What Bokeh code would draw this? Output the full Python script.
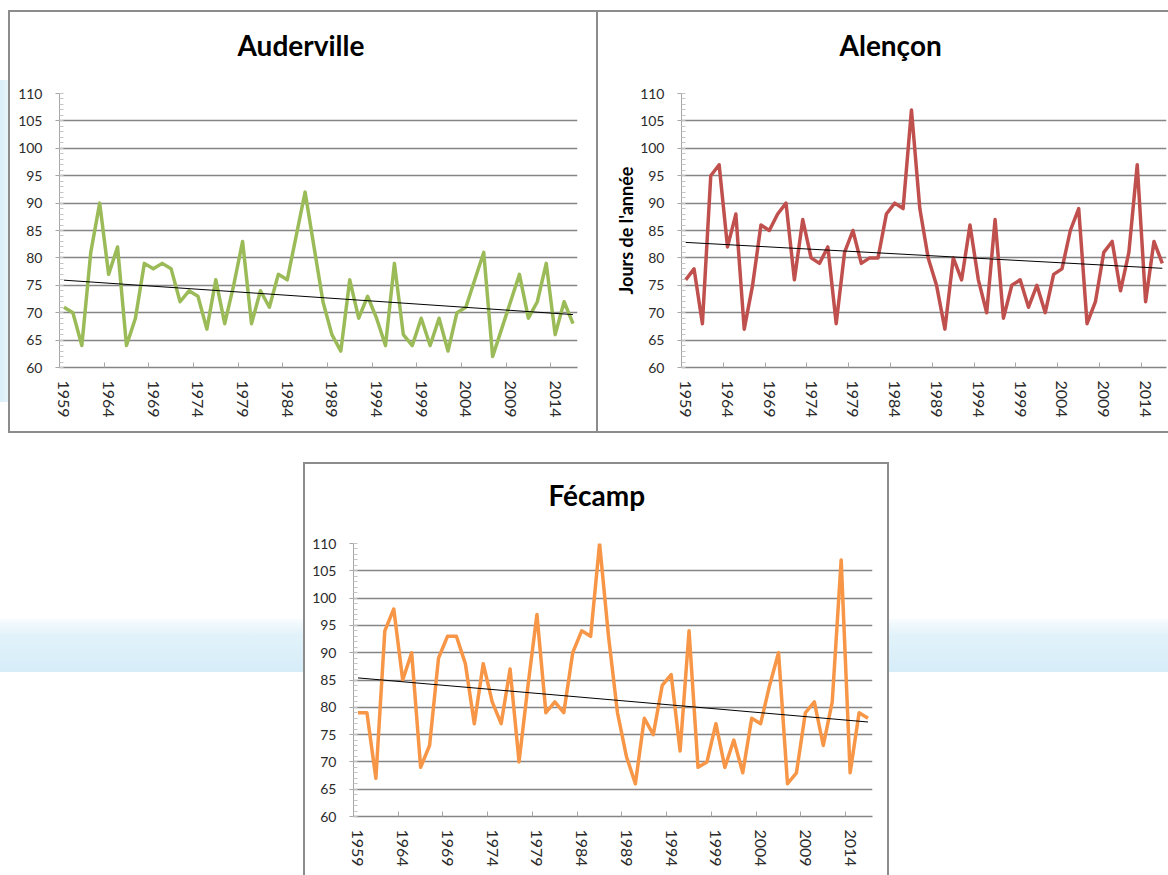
import numpy as np
from bokeh.plotting import figure
from bokeh.models import FixedTicker, Spacer, Range1d, Title
from bokeh.layouts import column, row
from bokeh.embed import file_html
from bokeh.resources import INLINE

# ---------------- data ----------------
years = list(range(1959, 2017))
label_years = list(range(1959, 2015, 5))

auderville = [71, 70, 64, 81, 90, 77, 82, 64, 69, 79,
              78, 79, 78, 72, 74, 73, 67, 76, 68, 75,
              83, 68, 74, 71, 77, 76, 84, 92, 82, 72,
              66, 63, 76, 69, 73, 69, 64, 79, 66, 64,
              69, 64, 69, 63, 70, 71, 76, 81, 62, 67,
              72, 77, 69, 72, 79, 66, 72, 68]

alencon = [76, 78, 68, 95, 97, 82, 88, 67, 75, 86,
           85, 88, 90, 76, 87, 80, 79, 82, 68, 81,
           85, 79, 80, 80, 88, 90, 89, 107, 89, 80,
           75, 67, 80, 76, 86, 76, 70, 87, 69, 75,
           76, 71, 75, 70, 77, 78, 85, 89, 68, 72,
           81, 83, 74, 81, 97, 72, 83, 79]

fecamp = [79, 79, 67, 94, 98, 85, 90, 69, 73, 89,
          93, 93, 88, 77, 88, 81, 77, 87, 70, 84,
          97, 79, 81, 79, 90, 94, 93, 110, 93, 79,
          71, 66, 78, 75, 84, 86, 72, 94, 69, 70,
          77, 69, 74, 68, 78, 77, 84, 90, 66, 68,
          79, 81, 73, 81, 107, 68, 79, 78]

y_ticks = list(range(60, 111, 5))
y_minor = list(range(60, 111))

GRID = "#858585"
AXIS = "#a6a6a6"
TEXT = "#2b2b2b"
BORDER = "2px solid #8c8c8c"


def make_chart(values, color, title, width, height, mbl, mbr, mbt, mbb,
               x_end, title_offset, borders, ylabel=None):
    p = figure(width=width, height=height,
               x_range=Range1d(1958.5, x_end), y_range=Range1d(60, 110),
               output_backend="svg", toolbar_location=None,
               min_border_left=mbl, min_border_right=mbr,
               min_border_top=mbt, min_border_bottom=mbb,
               outline_line_color=None, background_fill_color="white",
               border_fill_color="white")
    # spacer between the frame and the title
    p.add_layout(Title(text=" ", text_font_size="1px", standoff=27), "above")
    p.title.text = title
    p.title.align = "left"
    p.title.offset = title_offset
    p.title.standoff = 4
    p.title.text_font = "Lato"
    p.title.text_font_style = "bold"
    p.title.text_font_size = "28px"
    p.title.text_color = "black"

    p.xgrid.visible = False
    p.ygrid.grid_line_color = GRID
    p.ygrid.grid_line_width = 1.3

    ya = p.yaxis[0]
    ya.ticker = FixedTicker(ticks=y_ticks, minor_ticks=y_minor)
    ya.major_tick_in = 0
    ya.major_tick_out = 4
    ya.minor_tick_in = 4
    ya.minor_tick_out = 0
    ya.axis_line_color = AXIS
    ya.major_tick_line_color = AXIS
    ya.minor_tick_line_color = "#c4c4c4"
    ya.major_label_text_font = "Lato"
    ya.major_label_text_font_size = "14px"
    ya.major_label_text_color = TEXT
    ya.major_label_standoff = 13
    if ylabel:
        ya.axis_label = ylabel
        ya.axis_label_text_font = "Lato"
        ya.axis_label_text_font_style = "bold"
        ya.axis_label_text_font_size = "18px"
        ya.axis_label_text_color = "black"
        ya.axis_label_standoff = 0

    xa = p.xaxis[0]
    boundaries = [y + 4.5 for y in label_years]
    xa.ticker = FixedTicker(ticks=label_years, minor_ticks=boundaries)
    xa.major_tick_line_color = None
    xa.major_tick_in = 0
    xa.major_tick_out = 0
    xa.minor_tick_in = 5
    xa.minor_tick_out = 0
    xa.minor_tick_line_color = AXIS
    xa.axis_line_color = GRID
    xa.axis_line_width = 1.3
    xa.major_label_orientation = "vertical"
    xa.major_label_standoff = 13
    xa.major_label_text_font = "Lato"
    xa.major_label_text_font_size = "16px"
    xa.major_label_text_color = TEXT

    p.line(years, values, line_color=color, line_width=3.5, line_join="round")
    coef = np.polyfit(years, values, 1)
    ends = [years[0], years[-1]]
    p.line(ends, list(np.polyval(coef, ends)), line_color="black", line_width=1)

    p.styles = {k: BORDER for k in borders}
    return p


p1 = make_chart(auderville, "#9BBB59", "Auderville", 588, 423,
                49, 21, 81, 68, 2016.5, 178,
                ["border-left", "border-top", "border-bottom"])
p2 = make_chart(alencon, "#C0504D", "Alençon", 572, 423,
                83, 4, 81, 68, 2016.5, 158,
                ["border-left", "border-top", "border-bottom"],
                ylabel="Jours de l'année")
p3 = make_chart(fecamp, "#F79646", "Fécamp", 586, 413,
                48, 19, 79, 61, 2016.5, 195,
                ["border-left", "border-top", "border-right"])

BAND = {"background": "linear-gradient(180deg, #f8fcfe 0%, #e2f2fa 30%, #d6edf8 100%)"}
STRIP = {"background": "linear-gradient(90deg, #d9eef8 0%, #e6f4fa 100%)"}

strip_col = column(Spacer(width=8, height=70),
                   Spacer(width=8, height=322, styles=STRIP),
                   Spacer(width=8, height=31))
left_col = column(Spacer(width=303, height=157),
                  Spacer(width=303, height=53, styles=BAND),
                  Spacer(width=303, height=203))
right_col = column(Spacer(width=279, height=157),
                   Spacer(width=279, height=53, styles=BAND),
                   Spacer(width=279, height=203))

layout = column(Spacer(width=1168, height=10),
                row(strip_col, p1, p2),
                Spacer(width=1168, height=29),
                row(left_col, p3, right_col))

open("out.html", "w").write(file_html(layout, INLINE))
